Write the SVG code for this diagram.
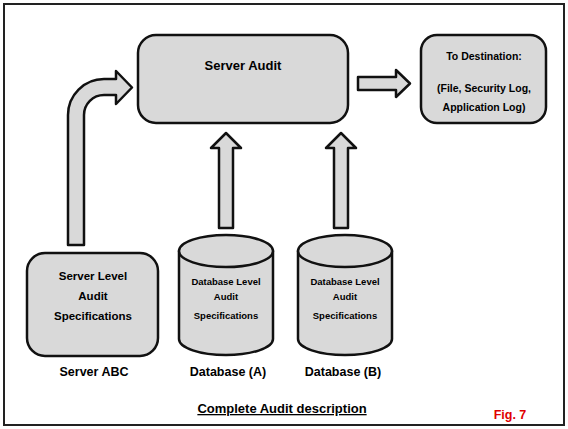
<svg xmlns="http://www.w3.org/2000/svg" width="568" height="429" viewBox="0 0 568 429">
<style>
.s{fill:#d9d9d9;stroke:#111;stroke-width:2.5;stroke-linejoin:round}
text{font-family:"Liberation Sans",Arial,sans-serif;font-weight:bold;fill:#000;text-anchor:middle}
</style>
<rect x="0" y="0" width="568" height="429" fill="#fff"/>
<rect x="4" y="4" width="560" height="421" fill="#fff" stroke="#222" stroke-width="2"/>
<g id="connectors">
<path class="s" d="M68,245 L68,115 A36,36 0 0 1 104,79 L116,79 L116,71 L132,87.5 L116,104 L116,95 L104,95 A20,20 0 0 0 84,115 L84,245 Z"/>
<path class="s" d="M358,77 L396,77 L396,70 L410,83.5 L396,97 L396,90 L358,90 Z"/>
<path class="s" d="M219,228 L219,148 L211,148 L226,133 L241,148 L233,148 L233,228 Z"/>
<path class="s" d="M334,228 L334,148 L326,148 L341,133 L356,148 L348,148 L348,228 Z"/>
</g>
<g id="server-audit">
<rect class="s" x="138" y="35" width="210" height="88" rx="18"/>
<text x="243" y="70" font-size="13">Server Audit</text>
</g>
<g id="destination">
<rect class="s" x="421" y="35" width="125" height="88" rx="16"/>
<text x="484" y="60" font-size="10.5">To Destination:</text>
<text x="484" y="92" font-size="10.5">(File, Security Log,</text>
<text x="484" y="111" font-size="10.5">Application Log)</text>
</g>
<g id="server-level">
<rect class="s" x="27" y="253" width="131" height="103" rx="18"/>
<text x="93" y="280" font-size="11.5">Server Level</text>
<text x="93" y="300" font-size="11.5">Audit</text>
<text x="93" y="320" font-size="11.5">Specifications</text>
<text x="94" y="376" font-size="12.5">Server ABC</text>
</g>
<g id="database-a">
<path class="s" d="M179,251 L179,339 A47,16 0 0 0 273,339 L273,251 Z"/>
<ellipse class="s" cx="226" cy="251" rx="47" ry="16"/>
<text x="226" y="285" font-size="9.5">Database Level</text>
<text x="226" y="300" font-size="9.5">Audit</text>
<text x="226" y="319" font-size="9.5">Specifications</text>
<text x="228" y="376" font-size="12.5">Database (A)</text>
</g>
<g id="database-b">
<path class="s" d="M298,251 L298,339 A47,16 0 0 0 392,339 L392,251 Z"/>
<ellipse class="s" cx="345" cy="251" rx="47" ry="16"/>
<text x="345" y="285" font-size="9.5">Database Level</text>
<text x="345" y="300" font-size="9.5">Audit</text>
<text x="345" y="319" font-size="9.5">Specifications</text>
<text x="343" y="376" font-size="12.5">Database (B)</text>
</g>
<g id="caption">
<text x="282" y="413" font-size="13" text-decoration="underline">Complete Audit description</text>
<text x="510" y="419" font-size="12.5" fill="#e00000" style="fill:#e00000">Fig. 7</text>
</g>
</svg>
